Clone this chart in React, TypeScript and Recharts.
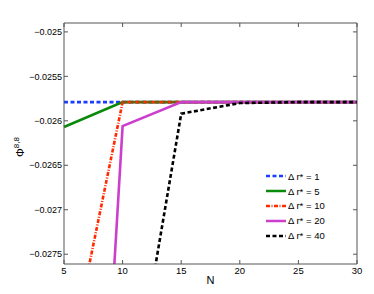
import { LineChart, Line, XAxis, YAxis } from "recharts";

const nValues = [5, 10, 15, 20, 25, 30];
const dr1 = [-0.02579, -0.02579, -0.02579, -0.02579, -0.02579, -0.02579];
const dr5 = [-0.02607, -0.02579, -0.02579, -0.02579, -0.02579, -0.02579];
const dr10 = [-0.029, -0.02579, -0.02579, -0.02579, -0.02579, -0.02579];
const dr20 = [-0.0371, -0.02606, -0.02579, -0.02579, -0.02579, -0.02579];
const dr40 = [-0.034, -0.0298, -0.02592, -0.0258, -0.02579, -0.02579];

const yTicks = [-0.025, -0.0255, -0.026, -0.0265, -0.027, -0.0275];
const xTicks = [5, 10, 15, 20, 25, 30];
const yDomain = [-0.02761, -0.0249];

const series = [
  { key: "dr1", label: "Δ r* = 1", color: "#1a3cff", dash: "4 2.5" },
  { key: "dr5", label: "Δ r* = 5", color: "#0a8a0a", dash: undefined },
  { key: "dr10", label: "Δ r* = 10", color: "#ff2a00", dash: "4 1.5 1 1.5" },
  { key: "dr20", label: "Δ r* = 20", color: "#cc3fcc", dash: undefined },
  { key: "dr40", label: "Δ r* = 40", color: "#000000", dash: "4 2.5" },
];

const data = nValues.map((n, i) => ({
  N: n,
  dr1: dr1[i],
  dr5: dr5[i],
  dr10: dr10[i],
  dr20: dr20[i],
  dr40: dr40[i],
}));

const font = "'Liberation Sans', Arial, sans-serif";
const axisColor = "#555";
const fmt = (v: number) => String(v).replace("-", "\u2212");
const noLabel = () => <g />;

function LegendBox() {
  return (
    <div
      style={{
        position: "absolute",
        left: 265,
        top: 169,
        fontFamily: font,
        fontSize: 9.5,
        color: "#000",
      }}
    >
      {series.map((s) => (
        <div key={s.key} style={{ display: "flex", alignItems: "center", height: 14.8 }}>
          <svg width={22} height={6} style={{ marginRight: 1 }}>
            <line x1={1} y1={3} x2={21} y2={3} stroke={s.color} strokeWidth={2.5} strokeDasharray={s.dash} />
          </svg>
          <span>{s.label}</span>
        </div>
      ))}
    </div>
  );
}

function PhiLabel() {
  return (
    <text
      transform="translate(24,147) rotate(-90)"
      textAnchor="middle"
      fontFamily={font}
      fontSize={11}
      fill="#000"
    >
      Φ<tspan dy={-5} fontSize={8}>8,8</tspan>
    </text>
  );
}

export default function App() {
  return (
    <div style={{ position: "absolute", left: 0, top: 0, width: 374, height: 294, background: "#fff" }}>
      <LineChart
        width={374}
        height={294}
        data={data}
        margin={{ top: 23, right: 17, left: 0, bottom: 0 }}
      >
        {/* bottom axis with labels, plus mirrored copies for inward ticks and the frame */}
        <XAxis
          xAxisId="b"
          dataKey="N"
          type="number"
          domain={[5, 30]}
          ticks={xTicks}
          height={30}
          tickLine={false}
          tickSize={0}
          tickMargin={3}
          stroke={axisColor}
          tick={{ fill: "#000", fontSize: 9.5, fontFamily: font }}
          label={{ value: "N", position: "insideBottom", offset: 10, fill: "#000", fontSize: 11, fontFamily: font }}
        />
        <XAxis
          xAxisId="bm"
          dataKey="N"
          type="number"
          domain={[5, 30]}
          ticks={xTicks}
          height={1}
          mirror
          tickSize={4}
          axisLine={false}
          stroke={axisColor}
          tick={noLabel}
        />
        <XAxis
          xAxisId="t"
          orientation="top"
          dataKey="N"
          type="number"
          domain={[5, 30]}
          ticks={xTicks}
          height={1}
          mirror
          tickSize={4}
          stroke={axisColor}
          tick={noLabel}
        />
        <YAxis
          yAxisId="l"
          type="number"
          domain={yDomain}
          allowDataOverflow
          ticks={yTicks}
          width={64}
          tickLine={false}
          tickSize={0}
          tickMargin={2}
          stroke={axisColor}
          tickFormatter={fmt}
          tick={{ fill: "#000", fontSize: 9, fontFamily: font }}
          label={<PhiLabel />}
        />
        <YAxis
          yAxisId="lm"
          type="number"
          domain={yDomain}
          allowDataOverflow
          ticks={yTicks}
          width={1}
          mirror
          tickSize={4}
          axisLine={false}
          stroke={axisColor}
          tick={noLabel}
        />
        <YAxis
          yAxisId="r"
          orientation="right"
          type="number"
          domain={yDomain}
          allowDataOverflow
          ticks={yTicks}
          width={1}
          mirror
          tickSize={4}
          stroke={axisColor}
          tick={noLabel}
        />
        {series.map((s) => (
          <Line
            key={s.key}
            xAxisId="b"
            yAxisId="l"
            dataKey={s.key}
            stroke={s.color}
            strokeWidth={2.6}
            strokeDasharray={s.dash}
            dot={false}
            isAnimationActive={false}
            type="linear"
          />
        ))}
      </LineChart>
      <LegendBox />
    </div>
  );
}
